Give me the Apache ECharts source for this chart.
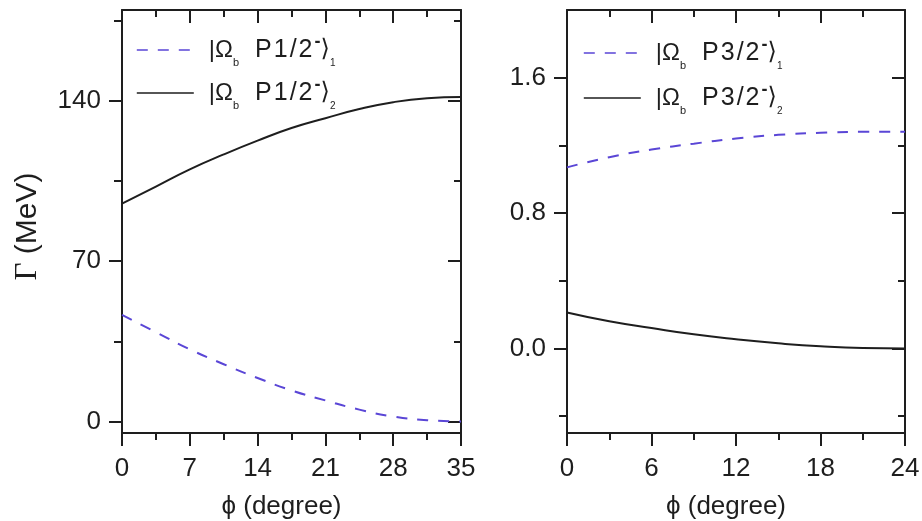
<!DOCTYPE html>
<html>
<head>
<meta charset="utf-8">
<script src="https://cdn.jsdelivr.net/npm/echarts@6/dist/echarts.min.js"></script>
<style>
  html, body { margin: 0; padding: 0; background: #fff; }
  #chart { width: 922px; height: 521px; }
</style>
</head>
<body>
<div id="chart"></div>
<script>
// Mixing angle (degrees) and decay widths for the two P-wave Omega_b doublets
const phiP12 = [0, 3.5, 7, 10.5, 14, 17.5, 21, 24.5, 28, 31.5, 35];
const widthP12State1 = [46.5, 39, 31.5, 25, 19, 13.6, 9.2, 5.2, 2.2, 0.6, 0];
const widthP12State2 = [95, 102.5, 110, 116.5, 122.5, 128, 132.3, 136.3, 139.3, 141, 141.5];

const phiP32 = [0, 3, 6, 9, 12, 15, 18, 21, 24];
const widthP32State1 = [1.07, 1.13, 1.175, 1.21, 1.24, 1.262, 1.274, 1.28, 1.28];
const widthP32State2 = [0.212, 0.16, 0.12, 0.083, 0.054, 0.03, 0.012, 0.002, 0];

// Tick values
const leftMajorTicks = [0, 70, 140];
const leftMinorTicks = [35, 105, 175];
const rightMajorTicks = [0, 0.8, 1.6];
const rightMinorTicks = [-0.4, 0.4, 1.2];

const FONT = "'Liberation Sans', Arial, sans-serif";
const INK = '#1e1e1e';
const DASH_COLOR = '#5a46d6';

const names = {
  p12a: 'P1/2 state 1', p12b: 'P1/2 state 2',
  p32a: 'P3/2 state 1', p32b: 'P3/2 state 2'
};
const ketText = {
  [names.p12a]: ['P1/2', '1'],
  [names.p12b]: ['P1/2', '2'],
  [names.p32a]: ['P3/2', '1'],
  [names.p32b]: ['P3/2', '2']
};

const pairs = (xs, ys) => xs.map((x, i) => [x, ys[i]]);

const LH = 36;
const richKet = {
  bar: { fontSize: 24, fontFamily: FONT, color: INK, lineHeight: LH, padding: [0, 0, 0, 10] },
  om: { fontSize: 24, fontFamily: FONT, color: INK, lineHeight: LH },
  sub: { fontSize: 11, fontFamily: FONT, color: INK, verticalAlign: 'bottom', lineHeight: 12 },
  p0: { fontSize: 25, fontFamily: FONT, color: INK, lineHeight: LH, padding: [0, 2, 0, 16] },
  p: { fontSize: 25, fontFamily: FONT, color: INK, lineHeight: LH, padding: [0, 2, 0, 0] },
  sup: { fontSize: 18, fontFamily: FONT, color: INK, fontWeight: 'bold', verticalAlign: 'top', lineHeight: 16, padding: [1, 0, 0, 0] },
  ang: { fontSize: 24, fontFamily: "'DejaVu Sans', sans-serif", color: INK, lineHeight: LH },
  sub2: { fontSize: 10, fontFamily: FONT, color: INK, verticalAlign: 'bottom', lineHeight: 11 }
};

function ketFormatter(name) {
  const k = ketText[name];
  const chars = k[0].split('');
  const label = chars.map((c, i) => '{' + (i === 0 ? 'p0' : 'p') + '|' + c + '}').join('');
  return '{bar||}{om|Ω}{sub|b}' + label + '{sup|-}{ang|⟩}{sub2|' + k[1] + '}';
}

function xAxes(gridIndex, max, interval) {
  const common = {
    type: 'value', gridIndex, min: 0, max, interval,
    axisLine: { onZero: false, lineStyle: { color: INK, width: 2 } },
    splitLine: { show: false },
    minorTick: { show: true, splitNumber: 2, length: 7, lineStyle: { color: INK, width: 2 } },
    axisTick: { length: 13, lineStyle: { color: INK, width: 2 } }
  };
  return [
    Object.assign({}, common, {
      position: 'bottom',
      name: 'ϕ (degree)', nameLocation: 'middle', nameGap: 61,
      nameTextStyle: { fontSize: 26, fontFamily: FONT, color: INK, padding: [0, 20, 0, 0] },
      axisLabel: { fontSize: 26, fontFamily: FONT, color: INK, margin: 23 }
    }),
    Object.assign({}, common, {
      position: 'top',
      axisTick: { inside: true, length: 13, lineStyle: { color: INK, width: 2 } },
      axisLabel: { show: false }
    })
  ];
}

function yAxes(gridIndex, min, max, major, minor, fmt, name) {
  const base = {
    type: 'value', gridIndex, min, max,
    splitLine: { show: false }
  };
  const tickStyle = { color: INK, width: 2 };
  return [
    Object.assign({}, base, {
      position: 'left',
      name: name || '', nameLocation: 'middle', nameGap: 79,
      nameTextStyle: {
        fontSize: 30, fontFamily: FONT, color: INK, padding: [0, 10, 0, 0],
        rich: { g: { fontSize: 31, fontFamily: "'Liberation Serif', serif", color: INK } }
      },
      axisLine: { onZero: false, lineStyle: { color: INK, width: 2 } },
      axisTick: { customValues: major, length: 13, lineStyle: tickStyle },
      axisLabel: { customValues: major, formatter: fmt, fontSize: 26, fontFamily: FONT, color: INK, margin: 21 }
    }),
    Object.assign({}, base, {
      position: 'left',
      axisLine: { show: false, onZero: false },
      axisTick: { customValues: minor, length: 8, lineStyle: tickStyle },
      axisLabel: { show: false }
    }),
    Object.assign({}, base, {
      position: 'right',
      axisLine: { onZero: false, lineStyle: { color: INK, width: 2 } },
      axisTick: { customValues: major, inside: true, length: 13, lineStyle: tickStyle },
      axisLabel: { show: false }
    }),
    Object.assign({}, base, {
      position: 'right',
      axisLine: { show: false, onZero: false },
      axisTick: { customValues: minor, inside: true, length: 7, lineStyle: tickStyle },
      axisLabel: { show: false }
    })
  ];
}

function curve(name, xIdx, yIdx, xs, ys, dashed) {
  return {
    type: 'line', name, xAxisIndex: xIdx, yAxisIndex: yIdx,
    data: pairs(xs, ys),
    smooth: true, symbol: 'none', silent: true,
    lineStyle: dashed
      ? { color: DASH_COLOR, width: 2, type: [11, 10] }
      : { color: INK, width: 2, type: 'solid' },
    itemStyle: { color: dashed ? DASH_COLOR : INK }
  };
}

const legendCommon = {
  orient: 'vertical', itemWidth: 57, itemHeight: 14, itemGap: 7,
  selectedMode: false, formatter: ketFormatter,
  itemStyle: { opacity: 0 },
  lineStyle: { width: 1.6 },
  textStyle: { rich: richKet, color: INK, fontSize: 24, fontFamily: FONT }
};

const option = {
  backgroundColor: '#ffffff',
  animation: false,
  grid: [
    { left: 122, top: 10, width: 339, height: 423, outerBoundsMode: 'none' },
    { left: 567, top: 10, width: 338, height: 423, outerBoundsMode: 'none' }
  ],
  xAxis: [].concat(xAxes(0, 35, 7), xAxes(1, 24, 6)),
  yAxis: [].concat(
    yAxes(0, -5, 179.5, leftMajorTicks, leftMinorTicks, v => String(v), '{g|Γ} (MeV)'),
    yAxes(1, -0.5, 2.0, rightMajorTicks, rightMinorTicks, v => Number(v).toFixed(1))
  ),
  legend: [
    Object.assign({}, legendCommon, { left: 131, top: 27, data: [names.p12a, names.p12b] }),
    Object.assign({}, legendCommon, { left: 578, top: 30, itemGap: 9, data: [names.p32a, names.p32b] })
  ],
  series: [
    curve(names.p12a, 0, 0, phiP12, widthP12State1, true),
    curve(names.p12b, 0, 0, phiP12, widthP12State2, false),
    curve(names.p32a, 2, 4, phiP32, widthP32State1, true),
    curve(names.p32b, 2, 4, phiP32, widthP32State2, false)
  ]
};

const chart = echarts.init(document.getElementById('chart'), null, { renderer: 'canvas' });
chart.setOption(option);
</script>
</body>
</html>
